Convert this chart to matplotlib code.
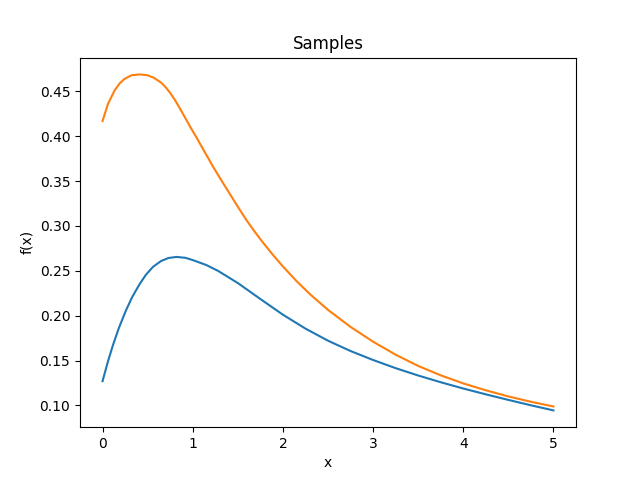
import matplotlib
matplotlib.use("Agg")
import matplotlib.pyplot as plt

x_blue = [0.0, 0.06, 0.115, 0.18, 0.26, 0.33, 0.41, 0.48, 0.56, 0.65, 0.73, 0.82, 0.92, 1.0, 1.15, 1.28,
          1.5, 1.75, 2.0, 2.25, 2.5, 2.75, 3.0, 3.25, 3.5, 3.75, 4.0, 4.25, 4.5, 4.75, 5.0]
y_blue = [0.127, 0.149, 0.167, 0.186, 0.206, 0.221, 0.235, 0.2455, 0.2545, 0.261, 0.2643, 0.2655, 0.2645, 0.262, 0.2565, 0.250,
          0.2364, 0.2186, 0.2011, 0.1856, 0.1721, 0.1606, 0.1506, 0.1415, 0.1333, 0.1258, 0.1188, 0.1123, 0.1061, 0.1001, 0.0944]

x_orange = [0.0, 0.06, 0.133, 0.19, 0.244, 0.32, 0.41, 0.5, 0.57, 0.65, 0.70, 0.75, 0.80, 0.856, 0.92, 0.985, 1.04, 1.13, 1.226,
            1.32, 1.41, 1.5, 1.596, 1.69, 1.78, 1.9, 2.0, 2.15, 2.3, 2.5, 2.75, 3.0, 3.25, 3.5, 3.75, 4.0, 4.25, 4.5, 4.75, 5.0]
y_orange = [0.417, 0.436, 0.451, 0.459, 0.464, 0.468, 0.469, 0.468, 0.4652, 0.4598, 0.4547, 0.4483, 0.4409, 0.4314, 0.4199, 0.4083, 0.399, 0.383, 0.366,
            0.3505, 0.336, 0.3215, 0.3065, 0.2933, 0.2814, 0.2665, 0.2549, 0.2387, 0.224, 0.2065, 0.1875, 0.171, 0.1565, 0.144, 0.1335, 0.1245, 0.1168, 0.110, 0.104, 0.0988]

fig, ax = plt.subplots(figsize=(6.4, 4.8), dpi=100)
ax.plot(x_blue, y_blue)
ax.plot(x_orange, y_orange)
ax.set_title("Samples")
ax.set_xlabel("x")
ax.set_ylabel("f(x)")
fig.savefig("out.png")
